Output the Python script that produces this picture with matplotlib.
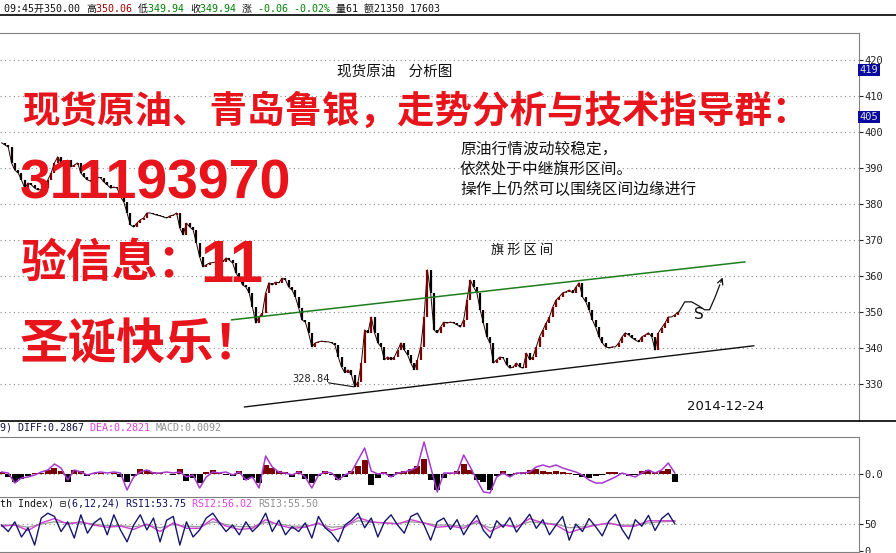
import numpy as np
import matplotlib.pyplot as plt
from matplotlib.lines import Line2D

plt.rcParams['font.family'] = ['DejaVu Sans', 'Noto Sans CJK SC']

# 收盘价 (one value per bar)
close = [397.0, 396.4, 395.8, 391.4, 389.4, 388.6, 386.7, 384.4, 385.8, 385.3,
         384.4, 383.9, 384.0, 384.4, 386.7, 388.6, 391.4, 393.1, 391.4, 390.3,
         392.2, 390.3, 390.8, 391.4, 388.6, 387.5, 386.7, 386.3, 386.1, 387.5,
         387.2, 386.1, 385.3, 384.4, 384.7, 384.4, 382.0, 380.6, 377.5, 374.2,
         373.6, 374.7, 375.6, 376.1, 377.5, 377.5, 377.2, 376.9, 376.7, 376.4,
         376.1, 376.7, 376.9, 377.5, 373.3, 371.4, 374.7, 373.6, 372.8, 369.2,
         365.3, 362.5, 363.1, 363.6, 363.7, 363.9, 364.4, 363.9, 365.0, 364.4,
         363.6, 360.8, 359.4, 357.5, 356.9, 355.3, 351.4, 346.9, 348.6, 349.7,
         355.3, 358.1, 357.5, 358.3, 358.1, 359.4, 358.9, 356.9, 356.1, 354.2,
         351.1, 347.8, 347.2, 344.2, 340.3, 341.4, 341.7, 341.9, 341.7, 341.7,
         341.4, 340.8, 337.5, 334.7, 333.1, 333.9, 332.5, 329.2, 330.6, 335.8,
         345.0, 344.2, 348.6, 344.2, 341.4, 340.3, 336.7, 337.5, 336.7, 337.5,
         339.4, 341.4, 339.4, 338.1, 335.8, 333.9, 336.7, 340.3, 348.6, 361.7,
         355.3, 345.0, 344.2, 345.8, 347.2, 346.9, 347.2, 346.9, 346.4, 345.8,
         347.8, 353.3, 358.9, 356.9, 355.3, 350.6, 346.9, 343.1, 341.4, 335.8,
         336.7, 337.5, 337.2, 335.3, 334.4, 334.7, 335.8, 334.7, 334.4, 338.6,
         336.7, 337.5, 340.3, 343.1, 345.0, 346.9, 348.6, 351.4, 353.3, 354.2,
         355.3, 355.6, 356.1, 355.3, 356.9, 358.1, 354.2, 352.8, 350.6, 347.8,
         345.8, 343.1, 341.4, 340.3, 340.0, 340.3, 340.3, 341.4, 343.1, 344.2,
         343.6, 342.8, 342.2, 341.7, 343.1, 343.6, 344.2, 343.1, 339.4, 344.2,
         345.6, 346.9, 348.6, 348.6, 349.2, 350.0]

# MACD, one value every 2 bars
diff = [0.2, 0.1, -0.9, -0.4, -0.3, -0.1, 0.2, 0.4, 1.0, 0.6,
        -0.6, 0.4, 0.2, -0.1, 0.1, 0.2, 0.1, 0.2, 0.1, -1.6,
        -0.3, 0.2, 0.4, 0.1, 0.1, 0.2, 0.1, 0.2, -0.3, -0.1,
        -1.4, -0.3, 0.2, 0.1, 0.2, -0.1, 0.2, -0.6, -0.3, -1.4,
        1.8, 0.7, 0.2, 0.1, -0.1, 0.2, -0.3, -1.4, -0.1, 0.2,
        0.1, -0.6, -0.1, 0.2, 1.4, 2.6, 0.3, 0.0, 0.1, -0.3,
        0.1, 0.2, 0.4, 0.7, 3.2, 0.7, -1.8, 0.1, 0.1, 0.1,
        1.9, 0.7, -0.6, -1.8, -1.9, -0.3, 0.1, -0.3, 0.1, 0.1,
        0.2, 0.7, 0.9, 0.7, 0.9, 0.6, 0.4, 0.2, -0.1, -0.6,
        -0.9, -0.9, -0.6, -0.3, 0.1, -0.1, -0.3, 0.1, 0.4, 0.1,
        0.4, 1.1, 0.1]
macd_hist = [0.2, -0.3, -0.8, -0.5, -0.2, 0.1, 0.1, 0.4, 0.6, 0.3,
             -0.8, 0.4, 0.3, -0.2, 0.1, 0.1, 0.0, 0.1, -0.3, -0.8,
             -0.2, 0.5, 0.4, 0.2, 0.1, 0.0, -0.1, 0.5, -0.7, -0.4,
             -0.9, 0.2, 0.4, 0.1, -0.1, -0.2, 0.3, -0.6, -0.4, -0.9,
             0.9, 0.6, 0.3, 0.2, -0.3, 0.3, -0.5, -0.9, -0.2, 0.3,
             -0.1, -0.6, -0.3, 0.3, 0.8, 1.4, -1.1, -0.4, 0.2, -0.3,
             0.2, 0.3, 0.5, 0.8, 1.5, -0.6, -1.6, -0.4, 0.1, 0.3,
             1.0, 0.4, -0.6, -0.8, -1.6, -0.2, 0.3, -0.2, 0.1, 0.2,
             0.4, 0.5, 0.3, 0.2, 0.3, 0.2, 0.1, -0.1, -0.3, -0.4,
             -0.2, -0.1, 0.2, 0.2, 0.1, -0.2, -0.1, 0.3, 0.4, 0.2,
             0.3, 0.5, -0.8]

# RSI(6) every 2 bars, RSI(12) and RSI(24) every 4 bars
rsi1 = [48, 36, 54, 26, 43, 11, 61, 70, 64, 36, 54, 24, 67, 33, 52, 61, 30, 67, 39, 17,
        48, 67, 39, 61, 17, 57, 64, 11, 54, 26, 39, 61, 70, 52, 36, 48, 30, 54, 36, 48,
        70, 36, 57, 30, 45, 36, 52, 24, 64, 43, 33, 17, 48, 57, 70, 43, 61, 26, 54, 67,
        48, 33, 64, 70, 48, 20, 54, 61, 40, 58, 30, 50, 66, 38, 24, 56, 44, 62, 35, 52,
        68, 42, 58, 30, 48, 64, 20, 50, 36, 60, 45, 28, 55, 68, 40, 22, 58, 46, 66, 38,
        60, 70, 50]
rsi2 = [46, 48, 38, 52, 60, 50, 54, 48, 44, 46, 40, 50, 36, 52, 42, 42, 60, 46, 40, 42,
        58, 48, 42, 44, 52, 38, 44, 62, 54, 52, 50, 58, 52, 44, 46, 42, 56, 36, 48, 44,
        60, 52, 48, 34, 42, 48, 52, 46, 46, 56, 56, 56]
rsi3 = [48, 48, 44, 50, 54, 52, 52, 50, 47, 47, 45, 48, 43, 49, 46, 45, 54, 49, 45, 45,
        53, 50, 46, 46, 50, 44, 46, 56, 53, 52, 51, 54, 52, 48, 48, 46, 52, 43, 48, 46,
        54, 52, 50, 43, 45, 48, 51, 48, 48, 52, 54, 55]

# 旗形区间 channel lines (bar, price)
upper_line = [(69.7, 347.8), (225.2, 363.9)]
lower_line = [(73.6, 323.6), (227.9, 340.6)]
# 预期走势 sketch (bar, price)
path_x = [205.2, 207.0, 209.1, 211.2, 213.0, 214.5, 216.1, 217.6, 218.8]
path_y = [350.0, 352.8, 352.8, 351.7, 350.6, 350.6, 353.9, 357.5, 360.3]

W, H = 896, 553
fig = plt.figure(figsize=(W / 100, H / 100), dpi=100)


def box(l, t, r, b):
    return [l / W, 1 - b / H, (r - l) / W, (b - t) / H]


mono = ['DejaVu Sans Mono', 'DejaVu Sans', 'Noto Sans CJK SC']
cjk = ['Noto Sans CJK SC']
grid_kw = dict(ls=(0, (1, 3)), color='#888888', lw=0.8)
xlim = (-0.5, 259.8)


def style(ax):
    ax.patch.set_alpha(0)
    for s in ['left', 'bottom']:
        ax.spines[s].set_visible(False)
    for s in ['top', 'right']:
        ax.spines[s].set_color('#808080')
    ax.set_xlim(*xlim)
    ax.set_xticks([])
    ax.yaxis.tick_right()
    ax.tick_params(axis='y', direction='out', length=3, pad=1, labelsize=7.5,
                   colors='#222222')
    for lbl in ax.get_yticklabels():
        lbl.set_family('DejaVu Sans Mono')


# ---- main price panel
ax = fig.add_axes(box(0, 33, 859, 421))
x = np.arange(len(close))
opens = [close[0]] + close[:-1]
cols = ['#7a0000' if c >= o else '#000000' for o, c in zip(opens, close)]
ax.plot(x, close, color='#2a0000', lw=0.7, zorder=3)
ax.vlines(x, np.minimum(opens, close), np.maximum(opens, close), colors=cols, lw=1.6, zorder=3)
ax.set_ylim(319.7, 427.5)
ax.set_yticks(range(330, 421, 10))
for v in range(330, 421, 10):
    ax.axhline(v, **grid_kw, zorder=1)
style(ax)

ax.plot(*zip(*upper_line), color='#1e7d1e', lw=1.1, zorder=4)
ax.plot(*zip(*lower_line), color='#111111', lw=1.0, zorder=4)
ax.plot([99.1, 106.7], [330.3, 329.2], color='#111111', lw=0.8)
ax.text(88, 331.4, '328.84', fontsize=7.5, family='DejaVu Sans Mono', color='#222222', va='center')
ax.plot(path_x[:-1], path_y[:-1], color='#111111', lw=0.9)
ax.annotate('', xy=(path_x[-1], path_y[-1]), xytext=(path_x[-2], path_y[-2]),
            arrowprops=dict(arrowstyle='->', color='#111111', lw=0.9))
ax.text(211.2, 349.3, 'S', fontsize=11, color='#111111', ha='center', va='center')

# right-side highlight boxes
for val, yy in [(419, 70), (405, 117)]:
    fig.text(869 / W, 1 - yy / H, str(val), fontsize=7.5, family='DejaVu Sans Mono',
             color='#dddddd', ha='center', va='center', zorder=5,
             bbox=dict(boxstyle='square,pad=0.12', fc='#0a0aa0', ec='none'))

# ---- MACD panel
axm = fig.add_axes(box(0, 437, 859, 497))
t2 = np.arange(len(diff)) * 2
hcols = ['#7a0000' if h >= 0 else '#000000' for h in macd_hist]
axm.bar(t2, macd_hist, width=1.8, color=hcols, zorder=2)
axm.plot(t2, diff, color='#a838d0', lw=1.1, zorder=3)
axm.axhline(0, **grid_kw, zorder=1)
axm.set_ylim(-2.3, 3.7)
axm.set_yticks([0])
axm.set_yticklabels(['0.0'])
style(axm)

# ---- RSI panel
axr = fig.add_axes(box(0, 497, 859, 552))
t4 = np.arange(len(rsi2)) * 4
axr.plot(t4, rsi3, color='#999999', lw=0.9)
axr.plot(t4, rsi2, color='#d040d0', lw=1.0)
axr.plot(np.arange(len(rsi1)) * 2, rsi1, color='#16166e', lw=1.0)
axr.axhline(50, **grid_kw, zorder=0)
axr.set_ylim(-1.85, 100)
axr.set_yticks([0, 50])
axr.set_yticklabels(['0', '50'])
style(axr)
axr.spines['bottom'].set_visible(True)
axr.spines['bottom'].set_color('#808080')

# frame lines
fig.add_artist(Line2D([0, 1], [1 - 15 / H, 1 - 15 / H], color='black', lw=1.2))
fig.add_artist(Line2D([0, 1], [1 - 421 / H, 1 - 421 / H], color='black', lw=1.2))


def chain(pieces, x0, y0, size=7.2):
    # coloured runs of text, each placed right after the previous one
    t = fig.text(x0 / W, 1 - y0 / H, pieces[0][0], color=pieces[0][1], fontsize=size,
                 family=mono, va='baseline')
    for s, c in pieces[1:]:
        t = ax.annotate(s, xy=(1, 1 - y0 / H), xycoords=(t, 'figure fraction'),
                        color=c, fontsize=size, family=mono, va='baseline',
                        annotation_clip=False, zorder=10)


chain([('09:45开350.00 ', '#111111'), ('高', '#111111'), ('350.06 ', '#a00000'),
       ('低', '#111111'), ('349.94 ', '#008000'), ('收', '#111111'), ('349.94 ', '#008000'),
       ('涨 ', '#111111'), ('-0.06 -0.02% ', '#008000'), ('量61 额21350 17603', '#111111')], 4, 12)
chain([('9) DIFF:0.2867 ', '#101040'), ('DEA:0.2821 ', '#e040e0'), ('MACD:0.0092', '#909090')], 0, 431)
chain([('th Index) ', '#111111'), ('⊟', '#111111'), ('(6,12,24) RSI1:53.75 ', '#101060'),
       ('RSI2:56.02 ', '#e040e0'), ('RSI3:55.50', '#909090')], 0, 507)

# chart annotations
fig.text(395 / W, 1 - 72 / H, '现货原油    分析图', fontsize=10.5, family=cjk, ha='center', va='center', color='#111111')
fig.text(522 / W, 1 - 250 / H, '旗 形 区 间', fontsize=9.5, family=cjk, ha='center', va='center', color='#111111')
for yy, s in [(149, '原油行情波动较稳定，'), (170, '依然处于中继旗形区间。'), (190, '操作上仍然可以围绕区间边缘进行')]:
    fig.text(460 / W, 1 - yy / H, s, fontsize=11.3, family=cjk, va='center', color='#111111')
fig.text(687 / W, 1 - 406 / H, '2014-12-24', fontsize=9.5, va='center', color='#111111')

red = '#e8141c'
big = ['Liberation Sans', 'Noto Sans CJK SC']
fig.text(22 / W, 1 - 112 / H, '现货原油、青岛鲁银，走势分析与技术指导群：', fontsize=27,
         weight='bold', family=big, color=red, va='center')
fig.text(20 / W, 1 - 184 / H, '311193970', fontsize=40, weight='bold', family=big, color=red, va='center')
fig.text(20 / W, 1 - 265 / H, '验信息：', fontsize=33, weight='bold', family=big, color=red, va='center')
fig.text(200 / W, 1 - 267 / H, '11', fontsize=43, weight='bold', family=big, color=red, va='center')
fig.text(20 / W, 1 - 346 / H, '圣诞快乐！', fontsize=35, weight='bold', family=big, color=red, va='center')

fig.savefig('out.png', dpi=100)
